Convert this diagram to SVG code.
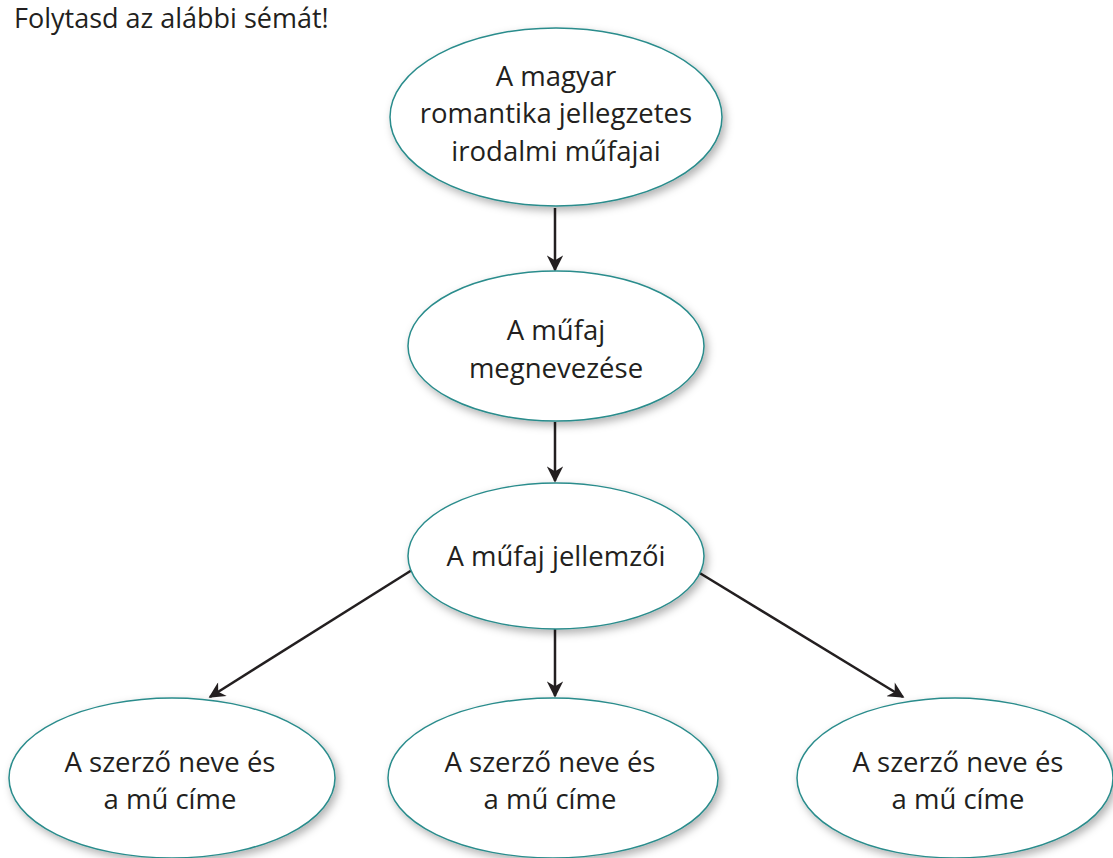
<svg xmlns="http://www.w3.org/2000/svg" width="1113" height="858" viewBox="0 0 1113 858">
<style>
.node{fill:#fff;stroke:#2a8c8c;stroke-width:1.5;filter:url(#sh)}
.t{font-family:"Open Sans","Liberation Sans",sans-serif;font-size:27.5px;fill:#231f20;text-anchor:middle}
.title{font-family:"Open Sans","Liberation Sans",sans-serif;font-size:27px;fill:#231f20}
.c{stroke:#231f20;stroke-width:2.5;fill:none;marker-end:url(#ah)}
</style>
<defs>
<filter id="sh" x="-10%" y="-10%" width="125%" height="130%">
<feDropShadow dx="3" dy="4" stdDeviation="4" flood-color="#000" flood-opacity="0.3"/>
</filter>
<marker id="ah" viewBox="0 0 10 10" refX="9" refY="5" markerWidth="7" markerHeight="6.5" orient="auto" markerUnits="strokeWidth">
<path d="M0,0 L10,5 L0,10 L3,5 z" fill="#231f20"/>
</marker>
</defs>
<text class="title" x="14" y="28">Folytasd az alábbi sémát!</text>
<g id="connectors">
<line class="c" x1="555" y1="208" x2="555" y2="270"/>
<line class="c" x1="555" y1="422" x2="555" y2="481"/>
<line class="c" x1="555" y1="629" x2="555" y2="696"/>
<line class="c" x1="412" y1="570" x2="210" y2="697"/>
<line class="c" x1="698" y1="572" x2="903" y2="697"/>
</g>
<g id="n1">
<ellipse class="node" cx="556" cy="117" rx="166" ry="89"/>
<text class="t" x="556" y="86">A magyar</text>
<text class="t" x="556" y="123">romantika jellegzetes</text>
<text class="t" x="556" y="161">irodalmi műfajai</text>
</g>
<g id="n2">
<ellipse class="node" cx="556" cy="346" rx="148" ry="75"/>
<text class="t" x="556" y="340">A műfaj</text>
<text class="t" x="556" y="378">megnevezése</text>
</g>
<g id="n3">
<ellipse class="node" cx="556" cy="556" rx="148" ry="73"/>
<text class="t" x="556" y="566">A műfaj jellemzői</text>
</g>
<g id="n4">
<ellipse class="node" cx="172" cy="778" rx="163" ry="80"/>
<text class="t" x="170" y="772">A szerző neve és</text>
<text class="t" x="170" y="809">a mű címe</text>
</g>
<g id="n5">
<ellipse class="node" cx="553" cy="778" rx="165" ry="80"/>
<text class="t" x="550" y="772">A szerző neve és</text>
<text class="t" x="550" y="809">a mű címe</text>
</g>
<g id="n6">
<ellipse class="node" cx="955" cy="778" rx="158" ry="80"/>
<text class="t" x="958" y="772">A szerző neve és</text>
<text class="t" x="958" y="809">a mű címe</text>
</g>
</svg>
